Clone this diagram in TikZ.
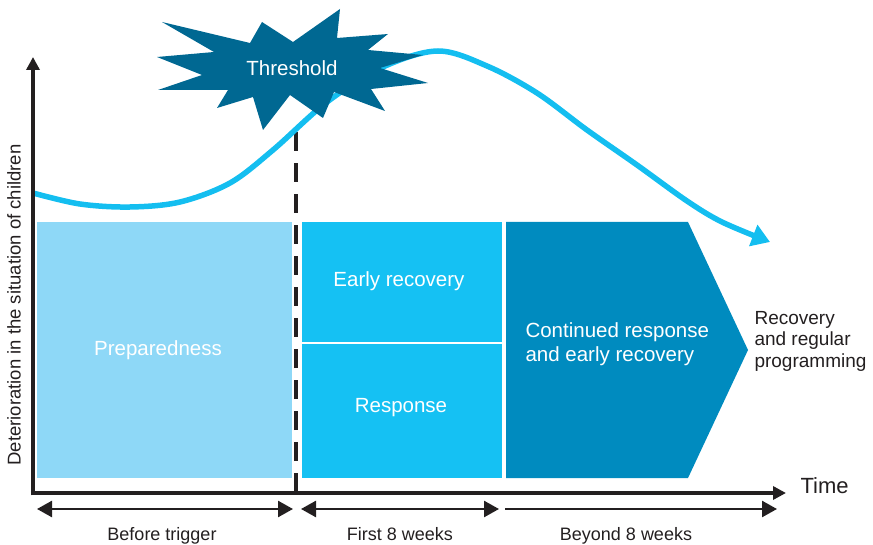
\documentclass[tikz,border=0pt]{standalone}
\usepackage{fontspec}
\setmainfont{Liberation Sans}
\usetikzlibrary{arrows.meta}
\definecolor{lightblue}{HTML}{8ED8F7}
\definecolor{cyanbox}{HTML}{15C1F3}
\definecolor{darkbox}{HTML}{008BBF}
\definecolor{starblue}{HTML}{006892}
\definecolor{curveblue}{HTML}{14BEF0}
\definecolor{inkgray}{HTML}{231F20}
\tikzset{spantip/.tip={Triangle[length=15pt,width=16pt]}}
\begin{document}
\begin{tikzpicture}[x=1pt,y=-1pt,
  boxtext/.style={text=white,font=\fontsize{20.5}{24}\selectfont},
  blockbox/.style={inner sep=0pt,anchor=north west},
  axisline/.style={line width=4.5pt,draw=inkgray,-{Triangle[length=13pt,width=13pt]}},
  spanline/.style={line width=2.5pt,draw=inkgray},
  spanlabel/.style={text=inkgray,font=\fontsize{18}{21}\selectfont,anchor=base},
  curveline/.style={draw=curveblue,line width=5.5pt,-{Triangle[length=18pt,width=22pt]}},
  trigger/.style={draw=inkgray,line width=4pt,dash pattern=on 19pt off 12pt}
]
\useasboundingbox (0,0) rectangle (873,545);

% boxes
\node[blockbox,fill=lightblue,minimum width=255pt,minimum height=256pt] (prep) at (37,222) {};
\node[boxtext] (preptext) at (158,350) {Preparedness};
\node[blockbox,fill=cyanbox,minimum width=200pt,minimum height=120pt] (early) at (302,222) {};
\node[boxtext] (earlytext) at (399,281) {Early recovery};
\node[blockbox,fill=cyanbox,minimum width=200pt,minimum height=134pt] (resp) at (302,344) {};
\node[boxtext] (resptext) at (401,408) {Response};
\fill[darkbox] (506,222) -- (688,222) -- (748,350) -- (688,478) -- (506,478) -- cycle;
\node[boxtext,anchor=west,align=left] (cont) at (522,344) {Continued response\\and early recovery};
\node[text=inkgray,font=\fontsize{19}{21.5}\selectfont,anchor=west,align=left] (regular) at (751,341) {Recovery\\and regular\\programming};

% trigger line
\coordinate (trigbot) at (296,492);
\coordinate (trigtop) at (296,132);
\draw[trigger] (trigbot) -- (trigtop);

% curve
\draw[curveline] plot[smooth,tension=0.55] coordinates {(33,193) (80,204) (130,207) (180,202) (230,183) (273,150) (327,102) (383,67) (438,51) (487,66) (537,93) (587,130) (637,165) (687,201) (722,222) (770,242)};

% starburst
\fill[starblue] (162,22) -- (250,43) -- (262,22) -- (293,42) -- (340,9) -- (337,38) -- (388,34) -- (368,50) -- (423,55) -- (380,68) -- (428,83) -- (371,89) -- (385,111) -- (334,92) -- (323,118) -- (290,95) -- (263,130) -- (253,97) -- (217,108) -- (228,90) -- (158,90) -- (202,75) -- (157,57) -- (214,52) -- cycle;
\node[text=white,font=\fontsize{20.5}{24}\selectfont] (thresh) at (292,68) {Threshold};

% axes
\coordinate (origin) at (33,495.25);
\coordinate (ytop) at (33,57);
\coordinate (xstart) at (30.75,493);
\coordinate (xend) at (786,493);
\draw[axisline] (origin) -- (ytop);
\draw[axisline] (xstart) -- (xend);
\node[text=inkgray,font=\fontsize{22}{24}\selectfont,anchor=base west] (time) at (797,493) {Time};
\node[text=inkgray,font=\fontsize{18.5}{21}\selectfont,rotate=90] (ylab) at (14,305) {Deterioration in the situation of children};

% spans
\coordinate (s1a) at (37,509);
\coordinate (s1b) at (293,509);
\coordinate (s2a) at (301,509);
\coordinate (s2b) at (499,509);
\coordinate (s3a) at (505,509);
\coordinate (s3b) at (777,509);
\draw[spanline,{spantip}-{spantip}] (s1a) -- (s1b);
\draw[spanline,{spantip}-{spantip}] (s2a) -- (s2b);
\draw[spanline,-{spantip}] (s3a) -- (s3b);
\node[spanlabel] (l1) at (162,540) {Before trigger};
\node[spanlabel] (l2) at (400,540) {First 8 weeks};
\node[spanlabel] (l3) at (626,540) {Beyond 8 weeks};
\end{tikzpicture}
\end{document}
